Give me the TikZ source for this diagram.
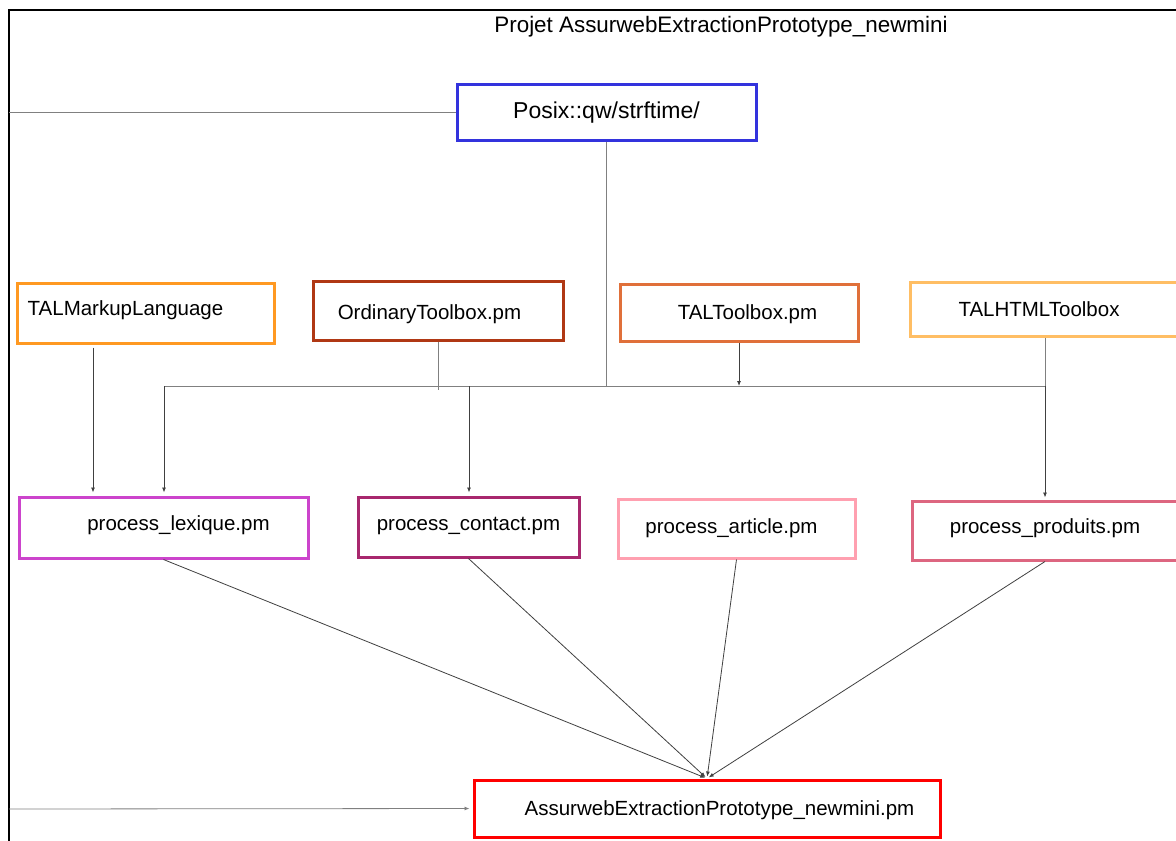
\documentclass[tikz,border=0pt]{standalone}
\usepackage{fontspec}
\setmainfont{Liberation Sans}
\usetikzlibrary{arrows.meta}
\definecolor{cposix}{RGB}{51,51,221}
\definecolor{ctalm}{RGB}{255,153,34}
\definecolor{cordi}{RGB}{176,56,20}
\definecolor{ctaltb}{RGB}{224,112,58}
\definecolor{chtml}{RGB}{255,190,100}
\definecolor{clex}{RGB}{204,68,204}
\definecolor{ccontact}{RGB}{168,40,110}
\definecolor{carticle}{RGB}{255,160,176}
\definecolor{cproduits}{RGB}{221,102,128}
\definecolor{cmain}{RGB}{255,0,0}
\newcommand\shtxt[3]{\raisebox{#2}[\height][\depth]{\kern#1\relax #3\kern-#1\relax}}
\begin{document}
\begin{tikzpicture}[x=1pt,y=-1pt,
  box/.style={draw=#1, line width=3pt, inner sep=0pt, font=\fontsize{20.5}{24}\selectfont},
  conn/.style={draw=black!50, line width=1pt},
  arr/.style={draw=black!75, line width=0.8pt, -{Latex[length=5pt,width=4pt]}},
  frame/.style={draw=black, line width=2pt}]
\useasboundingbox (0,0) rectangle (1176,841);
\fill[white] (0,0) rectangle (1176,841);
\draw[frame] (9,841) -- (9,10) -- (1176,10);

\node[font=\fontsize{22.4}{26}\selectfont] (title) at (721,27) {Projet AssurwebExtractionPrototype\_newmini};

\node[box=cposix, minimum width=299, minimum height=56, font=\fontsize{23}{26}\selectfont] (posix) at (606.5,112) {\shtxt{0pt}{-1pt}{Posix::qw/strftime/}};
\node[box=ctalm, minimum width=257, minimum height=60] (talm) at (145.5,313) {\shtxt{-20pt}{3pt}{TALMarkupLanguage}};
\node[box=cordi, minimum width=250, minimum height=59] (ordi) at (438,310.5) {\shtxt{-8.5pt}{-4pt}{OrdinaryToolbox.pm}};
\node[box=ctaltb, minimum width=238, minimum height=57] (taltb) at (739,312.5) {\shtxt{8.5pt}{-2pt}{TALToolbox.pm}};
\node[box=chtml, minimum width=270, minimum height=54] (html) at (1045,309) {\shtxt{-6pt}{0pt}{TALHTMLToolbox}};
\node[box=clex, minimum width=289, minimum height=61] (lex) at (163.5,527.5) {\shtxt{15pt}{2pt}{process\_lexique.pm}};
\node[box=ccontact, minimum width=221, minimum height=60] (contact) at (468.5,527) {\shtxt{0pt}{1pt}{process\_contact.pm}};
\node[box=carticle, minimum width=237, minimum height=59] (article) at (736.5,528.5) {\shtxt{-5pt}{0pt}{process\_article.pm}};
\node[box=cproduits, minimum width=266, minimum height=59] (produits) at (1045,530.5) {\shtxt{0pt}{2pt}{process\_produits.pm}};
\node[box=cmain, minimum width=466, minimum height=57] (main) at (707,808.5) {\shtxt{12.5pt}{-2pt}{AssurwebExtractionPrototype\_newmini.pm}};

\coordinate (busL) at (164,386);
\coordinate (busR) at (1045,386);
\coordinate (busC) at (469,386);
\coordinate (ordiEnd) at (438,390);
\coordinate (tx) at (93,0);
\coordinate (fl1) at (9,112);
\coordinate (fl2) at (9,809);

\draw[conn] (fl1) -- (posix.west);
\draw[conn] (posix.south) -- (posix.south |- busL);
\draw[conn] (busL) -- (busR);
\draw[conn] (ordi.south) -- (ordiEnd);
\draw[arr] (taltb.south) -- (taltb.south |- busL);
\draw[conn] (html.south) -- (busR);
\draw[arr, shorten >=2pt] (busR) -- (produits.north);
\draw[arr, shorten >=3pt] (busL) -- (busL |- lex.north);
\draw[arr, shorten >=3pt] (busC) -- (busC |- contact.north);
\draw[arr, shorten <=3pt, shorten >=3pt] (talm.south -| tx) -- (lex.north -| tx);

\draw[arr, shorten >=2pt] (lex.south) -- (main.north);
\draw[arr, shorten >=2pt] (contact.south) -- (main.north);
\draw[arr, shorten >=2pt] (article.south) -- (main.north);
\draw[arr, shorten >=2pt] (produits.south) -- (main.north);
\draw[arr, draw=black!50, shorten >=3pt] (fl2) -- (main.west);
\end{tikzpicture}
\end{document}
